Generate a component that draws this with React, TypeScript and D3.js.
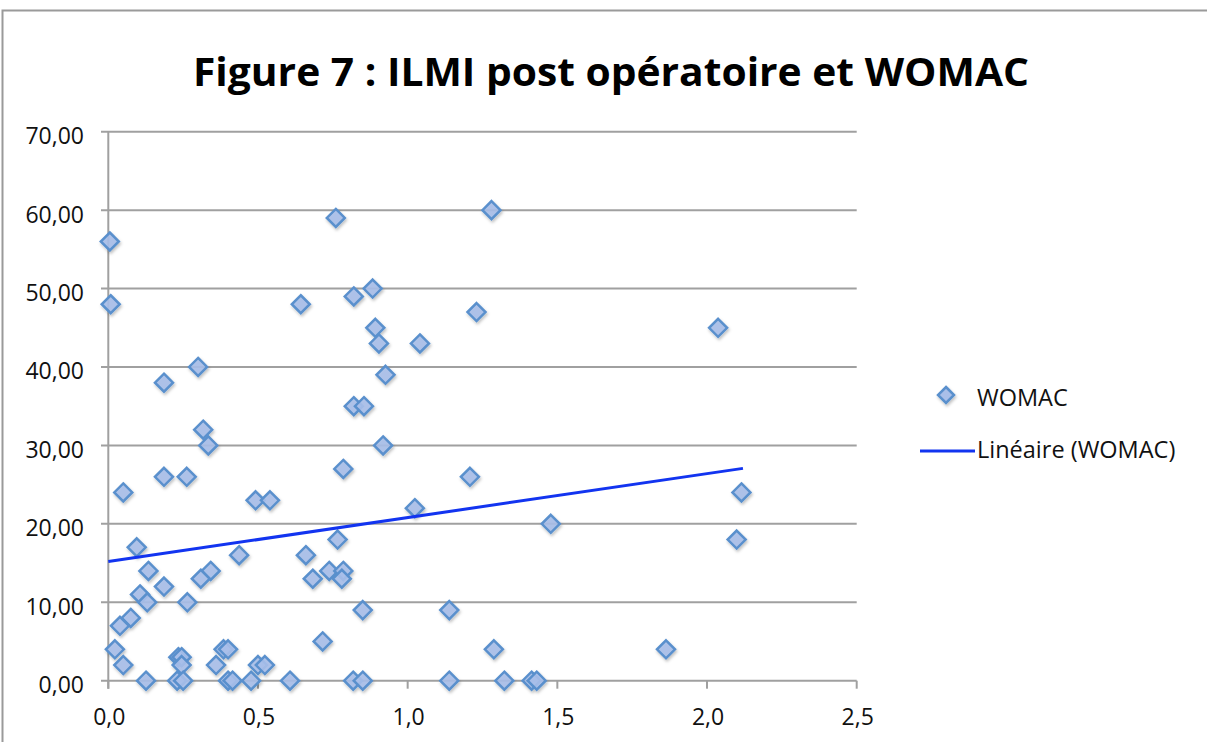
import React, { useEffect, useRef } from "react";
import * as d3 from "d3";

// ILMI post opératoire (x) vs WOMAC (y)
const ilmi = [
  0.005, 0.008, 0.76, 0.643, 0.82, 0.883, 0.892, 0.904, 0.926, 0.186,
  0.3, 0.82, 0.854, 0.317, 0.334, 0.05, 0.186, 0.262, 0.492, 0.54,
  0.785, 0.918, 0.095, 0.437, 0.66, 0.766, 0.134, 0.342, 0.309, 0.186,
  0.683, 0.738, 0.785, 0.78, 0.106, 0.13, 0.264, 0.85, 0.075, 0.039,
  0.716, 0.022, 0.385, 0.4, 0.234, 0.245, 0.245, 0.05, 0.36, 0.5,
  0.523, 0.126, 0.23, 0.25, 0.4, 0.415, 0.477, 0.607, 0.818, 0.85,
  1.28, 1.23, 1.041, 1.208, 1.024, 1.478, 1.139, 1.288, 1.863, 1.139,
  1.323, 1.414, 1.431, 2.037, 2.115, 2.099,
];
const womac = [
  56, 48, 59, 48, 49, 50, 45, 43, 39, 38,
  40, 35, 35, 32, 30, 24, 26, 26, 23, 23,
  27, 30, 17, 16, 16, 18, 14, 14, 13, 12,
  13, 14, 14, 13, 11, 10, 10, 9, 8, 7,
  5, 4, 4, 4, 3, 3, 2, 2, 2, 2,
  2, 0, 0, 0, 0, 0, 0, 0, 0, 0,
  60, 47, 43, 26, 22, 20, 9, 4, 4, 0,
  0, 0, 0, 45, 24, 18,
];
// trend line (Linéaire) as drawn: intercept and slope
const trendIntercept = 15.2;
const trendSlope = 5.6;
const xTicks = [0, 0.5, 1, 1.5, 2, 2.5];
const yTicks = [0, 10, 20, 30, 40, 50, 60, 70];
const seriesName = "WOMAC";
const trendName = "Linéaire (WOMAC)";
const title = "Figure 7 : ILMI post opératoire et WOMAC";

const App = () => {
  const svgRef = useRef<SVGSVGElement>(null);
  const width = 1207;
  const height = 742;

  useEffect(() => {
    const svg = d3.select(svgRef.current);
    svg.selectAll("*").remove();
    const font = "Open Sans, Liberation Sans, sans-serif";
    const grid = "#a0a0a0";
    const blue = "#1234f0";

    const x = d3.scaleLinear().domain([0, 2.5]).range([108.3, 856.7]);
    const y = d3.scaleLinear().domain([0, 70]).range([680.7, 131.7]);

    const defs = svg.append("defs");
    const f = defs
      .append("filter")
      .attr("id", "shadow")
      .attr("x", "-50%")
      .attr("y", "-50%")
      .attr("width", "200%")
      .attr("height", "200%");
    f.append("feDropShadow")
      .attr("dx", 1)
      .attr("dy", 2)
      .attr("stdDeviation", 1.5)
      .attr("flood-color", "#000")
      .attr("flood-opacity", 0.25);

    // frame
    svg
      .append("path")
      .attr("d", `M2.5,${height} L2.5,10.5 L${width},10.5`)
      .attr("fill", "none")
      .attr("stroke", "#9a9a9a")
      .attr("stroke-width", 2);

    svg
      .append("text")
      .attr("x", 611)
      .attr("y", 86)
      .attr("text-anchor", "middle")
      .attr("font-family", font)
      .attr("font-weight", "bold")
      .attr("font-size", 40)
      .attr("textLength", 836)
      .attr("lengthAdjust", "spacingAndGlyphs")
      .text(title);

    // horizontal gridlines (also y ticks)
    svg
      .append("g")
      .selectAll("line")
      .data(yTicks)
      .join("line")
      .attr("x1", 101)
      .attr("x2", x(2.5))
      .attr("y1", (d) => y(d))
      .attr("y2", (d) => y(d))
      .attr("stroke", grid)
      .attr("stroke-width", 2);

    svg
      .append("line")
      .attr("x1", x(0))
      .attr("x2", x(0))
      .attr("y1", y(70))
      .attr("y2", y(0) + 8)
      .attr("stroke", grid)
      .attr("stroke-width", 2);

    svg
      .append("g")
      .selectAll("line")
      .data(xTicks)
      .join("line")
      .attr("x1", (d) => x(d))
      .attr("x2", (d) => x(d))
      .attr("y1", y(0))
      .attr("y2", y(0) + 8)
      .attr("stroke", grid)
      .attr("stroke-width", 2);

    const fmtY = (d: number) => d3.format(".2f")(d).replace(".", ",");
    const fmtX = (d: number) => d3.format(".1f")(d).replace(".", ",");

    svg
      .append("g")
      .selectAll("text")
      .data(yTicks)
      .join("text")
      .attr("x", 84)
      .attr("y", (d) => y(d) + 12.5)
      .attr("text-anchor", "end")
      .attr("font-family", font)
      .attr("font-size", 23)
      .attr("fill", "#111")
      .text(fmtY);

    svg
      .append("g")
      .selectAll("text")
      .data(xTicks)
      .join("text")
      .attr("x", (d) => x(d) + 1)
      .attr("y", 725)
      .attr("text-anchor", "middle")
      .attr("font-family", font)
      .attr("font-size", 23)
      .attr("fill", "#111")
      .text(fmtX);

    const diamond = (cx: number, cy: number, r: number) =>
      `M${cx},${cy - r} L${cx + r},${cy} L${cx},${cy + r} L${cx - r},${cy} Z`;

    const points = ilmi.map((v, i) => [v, womac[i]]);
    svg
      .append("g")
      .attr("filter", "url(#shadow)")
      .selectAll("path")
      .data(points)
      .join("path")
      .attr("d", (d) => diamond(x(d[0]), y(d[1]), 9))
      .attr("fill", "#a9bfe9")
      .attr("fill-opacity", 0.9)
      .attr("stroke", "#5a90cd")
      .attr("stroke-width", 2.5);

    const xMax = d3.max(ilmi) as number;
    const line = d3
      .line<number>()
      .x((d) => x(d))
      .y((d) => y(trendIntercept + trendSlope * d));
    svg
      .append("path")
      .attr("d", line([0, xMax + 0.005]))
      .attr("fill", "none")
      .attr("stroke", blue)
      .attr("stroke-width", 3);

    // legend
    const lg = svg.append("g");
    lg.append("path")
      .attr("d", diamond(946, 395, 8))
      .attr("fill", "#a9bfe9")
      .attr("stroke", "#5a90cd")
      .attr("stroke-width", 2.5)
      .attr("filter", "url(#shadow)");
    lg.append("text")
      .attr("x", 977)
      .attr("y", 406)
      .attr("font-family", font)
      .attr("font-size", 23.5)
      .attr("fill", "#111")
      .text(seriesName);
    lg.append("line")
      .attr("x1", 920)
      .attr("x2", 975)
      .attr("y1", 451)
      .attr("y2", 451)
      .attr("stroke", blue)
      .attr("stroke-width", 3);
    lg.append("text")
      .attr("x", 977)
      .attr("y", 458)
      .attr("font-family", font)
      .attr("font-size", 23.5)
      .attr("fill", "#111")
      .text(trendName);
  }, []);

  return (
    <div style={{ position: "absolute", left: 0, top: 0 }}>
      <svg
        ref={svgRef}
        width={width}
        height={height}
        style={{ display: "block", background: "#fff" }}
      ></svg>
    </div>
  );
};

export default App;
